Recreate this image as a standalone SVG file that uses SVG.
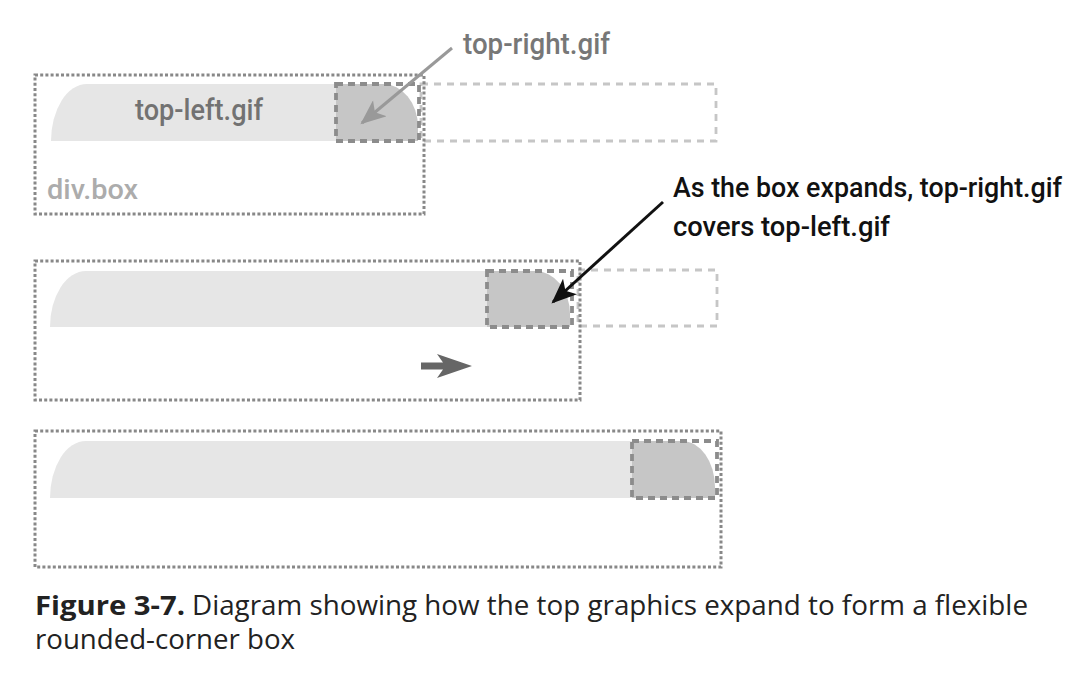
<svg xmlns="http://www.w3.org/2000/svg" width="1080" height="677" viewBox="0 0 1080 677">
<style>
.outer{fill:none;stroke:#888;stroke-width:3;stroke-dasharray:3 2.2}
.lite{fill:#e6e6e6}
.dark{fill:#c6c6c6}
.dbox{fill:none;stroke:#8c8c8c;stroke-width:3.8;stroke-dasharray:7 5}
.ext{fill:none;stroke:#c6c6c6;stroke-width:2.8;stroke-dasharray:7 6}
.lbl{font-family:Roboto,"Liberation Sans",sans-serif;font-weight:500}
.cap{font-family:"Open Sans","Noto Sans",sans-serif;font-size:27px;fill:#222}
</style>
<defs>
<marker id="ahGray" viewBox="0 0 12 10" refX="11" refY="5" markerWidth="8.5" markerHeight="7" orient="auto">
<path d="M0,0 L12,5 L0,10 L3,5 Z" fill="#999"/>
</marker>
<marker id="ahBlack" viewBox="0 0 12 10" refX="11" refY="5" markerWidth="8.5" markerHeight="7" orient="auto">
<path d="M0,0 L12,5 L0,10 L3,5 Z" fill="#111"/>
</marker>
</defs>
<rect width="1080" height="677" fill="#fff"/>

<g id="box1">
<rect class="ext" x="421" y="84" width="295" height="57"/>
<path class="lite" d="M51,141 A36,57 0 0 1 87,84 L336,84 L336,141 Z"/>
<path class="dark" d="M336,84 L383,84 A35,43 0 0 1 418,127 L418,141 L336,141 Z"/>
<rect class="dbox" x="336" y="84" width="83" height="57"/>
<rect class="outer" x="35" y="75" width="389" height="139"/>
<text class="lbl" x="135" y="120" font-size="29" fill="#727272" textLength="128" lengthAdjust="spacingAndGlyphs">top-left.gif</text>
<text class="lbl" x="47" y="199" font-size="28" fill="#acacac" textLength="91" lengthAdjust="spacingAndGlyphs">div.box</text>
</g>

<g id="label-top-right">
<text class="lbl" x="463" y="54" font-size="29" fill="#777" textLength="147" lengthAdjust="spacingAndGlyphs">top-right.gif</text>
</g>

<g id="box2">
<rect class="ext" x="578" y="270" width="139" height="56"/>
<path class="lite" d="M50,327 A36,56 0 0 1 86,271 L487,271 L487,327 Z"/>
<path class="dark" d="M487,271 L535,271 A35,43 0 0 1 570,314 L570,327 L487,327 Z"/>
<rect class="dbox" x="487" y="271" width="85" height="56"/>
<rect class="outer" x="35" y="261" width="545" height="139"/>
<polygon points="421,362.5 443,362.5 437,354 472,366 437,378 443,369.5 421,369.5" fill="#666"/>
</g>

<g id="label-expands">
<text class="lbl" x="673" y="197" font-size="28" fill="#111" textLength="389" lengthAdjust="spacingAndGlyphs">As the box expands, top-right.gif</text>
<text class="lbl" x="673" y="236" font-size="28" fill="#111" textLength="217" lengthAdjust="spacingAndGlyphs">covers top-left.gif</text>
</g>

<g id="box3">
<path class="lite" d="M50,498 A36,57 0 0 1 86,441 L632,441 L632,498 Z"/>
<path class="dark" d="M632,441 L682,441 A33,46 0 0 1 715,487 L715,498 L632,498 Z"/>
<rect class="dbox" x="632" y="441" width="85" height="57"/>
<rect class="outer" x="35" y="431" width="686" height="136"/>
</g>

<g id="connectors">
<line x1="452" y1="48" x2="362" y2="123" stroke="#999" stroke-width="3" marker-end="url(#ahGray)"/>
<line x1="663" y1="202" x2="553" y2="302" stroke="#111" stroke-width="3" marker-end="url(#ahBlack)"/>
</g>

<g id="caption">
<text class="cap" x="35" y="615" font-weight="bold" textLength="150" lengthAdjust="spacingAndGlyphs">Figure 3-7.</text>
<text class="cap" x="192" y="615" textLength="836" lengthAdjust="spacingAndGlyphs">Diagram showing how the top graphics expand to form a flexible</text>
<text class="cap" x="35" y="649" textLength="260" lengthAdjust="spacingAndGlyphs">rounded-corner box</text>
</g>
</svg>
